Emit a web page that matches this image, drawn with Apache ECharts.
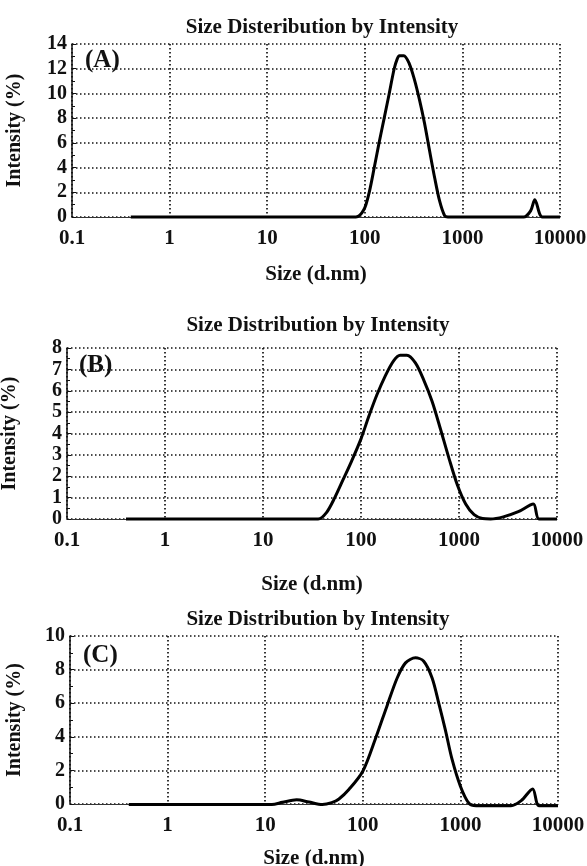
<!DOCTYPE html>
<html>
<head>
<meta charset="utf-8">
<script src="https://cdn.jsdelivr.net/npm/echarts@6/dist/echarts.min.js"></script>
<style>html,body{margin:0;padding:0;background:#fff;}#c{width:587px;height:866px;}</style>
</head>
<body>
<div id="c"></div>
<script>
const xTickLabels = ['0.1', '1', '10', '100', '1000', '10000'];
const titles = ['Size Disteribution by Intensity', 'Size Distribution by Intensity', 'Size Distribution by Intensity'];
const panelLabels = ['(A)', '(B)', '(C)'];

const sizeA = [0.4, 10, 81, 98, 111, 125, 140, 158, 178, 200, 215, 226, 251, 286, 323, 363, 409, 460, 519, 584, 658, 711, 1000, 4236, 5000, 5521, 6590, 10000];
const intensityA = [0, 0, 0, 0.6, 2.0, 4.0, 6.0, 8.0, 10.0, 12.0, 12.8, 13.05, 13.05, 12.4, 11.1, 9.5, 7.6, 5.4, 3.2, 1.3, 0.1, 0, 0, 0, 0.5, 1.4, 0, 0];

const sizeB = [0.4, 36.5, 44.4, 54, 65.8, 80, 100, 119, 145, 177, 215, 251, 294, 359, 437, 532, 648, 789, 961, 1170, 1425, 1738, 2100, 2833, 4029, 5737, 6547, 10000];
const intensityB = [0, 0, 0.3, 1.0, 1.85, 2.7, 3.75, 4.75, 5.8, 6.7, 7.4, 7.66, 7.66, 7.3, 6.5, 5.5, 4.2, 2.85, 1.6, 0.7, 0.2, 0.02, 0, 0.1, 0.34, 0.7, 0, 0];

const sizeC = [0.4, 11.7, 15, 21, 28, 38.5, 48, 57, 72, 100, 135, 177, 225, 274, 346, 421, 513, 600, 702, 822, 1000, 1217, 1450, 3300, 4200, 5500, 6400, 10000];
const intensityC = [-0.03, -0.03, 0.1, 0.25, 0.12, -0.03, 0.08, 0.3, 0.86, 1.95, 3.9, 5.84, 7.5, 8.4, 8.7, 8.5, 7.5, 6.0, 4.4, 2.65, 1.06, 0.06, -0.1, -0.1, 0.2, 0.9, -0.1, -0.1];

const yMax = [14, 8, 10];
const yInterval = [2, 1, 2];

const FONT = '"Liberation Serif", "Times New Roman", serif';
const dotted = { type: [1.5, 2.5], width: 1.7, color: '#111' };

const grids = [
  { left: 72, top: 44, width: 488, height: 173, outerBoundsMode: 'none' },
  { left: 67, top: 348, width: 490, height: 171, outerBoundsMode: 'none' },
  { left: 70, top: 636, width: 488, height: 168, outerBoundsMode: 'none' }
];
const titlePos = [[317, 12], [313, 310], [313, 604]];
const labelPos = [[80, 43], [74, 348], [78, 638]];
const xNameGap = [47, 55, 44];
const yNameGap = [47, 47, 45];

function pairs(xs, ys) { return xs.map((x, i) => [x, ys[i]]); }
const seriesData = [pairs(sizeA, intensityA), pairs(sizeB, intensityB), pairs(sizeC, intensityC)];

const option = {
  backgroundColor: '#fff',
  animation: false,
  title: [],
  grid: grids,
  xAxis: [],
  yAxis: [],
  series: []
};

for (let i = 0; i < 3; i++) {
  option.title.push({
    text: titles[i], left: titlePos[i][0], top: titlePos[i][1], textAlign: 'center',
    textStyle: { fontFamily: FONT, fontWeight: 'bold', fontSize: 21, color: '#111' }
  });
  option.title.push({
    text: panelLabels[i], left: labelPos[i][0], top: labelPos[i][1],
    textStyle: { fontFamily: FONT, fontWeight: 'bold', fontSize: 25, color: '#111' }
  });
  option.xAxis.push({
    gridIndex: i, type: 'log', logBase: 10, min: 0.1, max: 10000,
    name: 'Size (d.nm)', nameLocation: 'middle', nameGap: xNameGap[i],
    nameTextStyle: { fontFamily: FONT, fontWeight: 'bold', fontSize: 21, color: '#111' },
    axisLine: { show: true, onZero: false, lineStyle: { color: '#333', width: 1.2 } },
    axisTick: { show: false },
    axisLabel: {
      fontFamily: FONT, fontWeight: 'bold', fontSize: 21, color: '#111', margin: 11,
      formatter: v => xTickLabels[Math.round(Math.log10(v)) + 1]
    },
    splitLine: { show: true, lineStyle: dotted }
  });
  option.yAxis.push({
    gridIndex: i, type: 'value', min: 0, max: yMax[i], interval: yInterval[i],
    name: 'Intensity (%)', nameLocation: 'middle', nameGap: yNameGap[i],
    nameTextStyle: { fontFamily: FONT, fontWeight: 'bold', fontSize: 20, color: '#111' },
    axisLine: { show: true, lineStyle: { color: '#111', width: 1.5 } },
    axisTick: { show: true, inside: true, length: 4, lineStyle: { color: '#111' } },
    minorTick: { show: true, splitNumber: 2, length: 3, lineStyle: { color: '#111' } },
    axisLabel: { fontFamily: FONT, fontWeight: 'bold', fontSize: 20, color: '#111', margin: 5 },
    splitLine: { show: true, lineStyle: dotted }
  });
  option.series.push({
    type: 'line', xAxisIndex: i, yAxisIndex: i, data: seriesData[i],
    smooth: 0.3, showSymbol: false, clip: false,
    lineStyle: { color: '#000', width: 3 }
  });
}

const chart = echarts.init(document.getElementById('c'), null, { renderer: 'canvas' });
chart.setOption(option);
</script>
</body>
</html>
